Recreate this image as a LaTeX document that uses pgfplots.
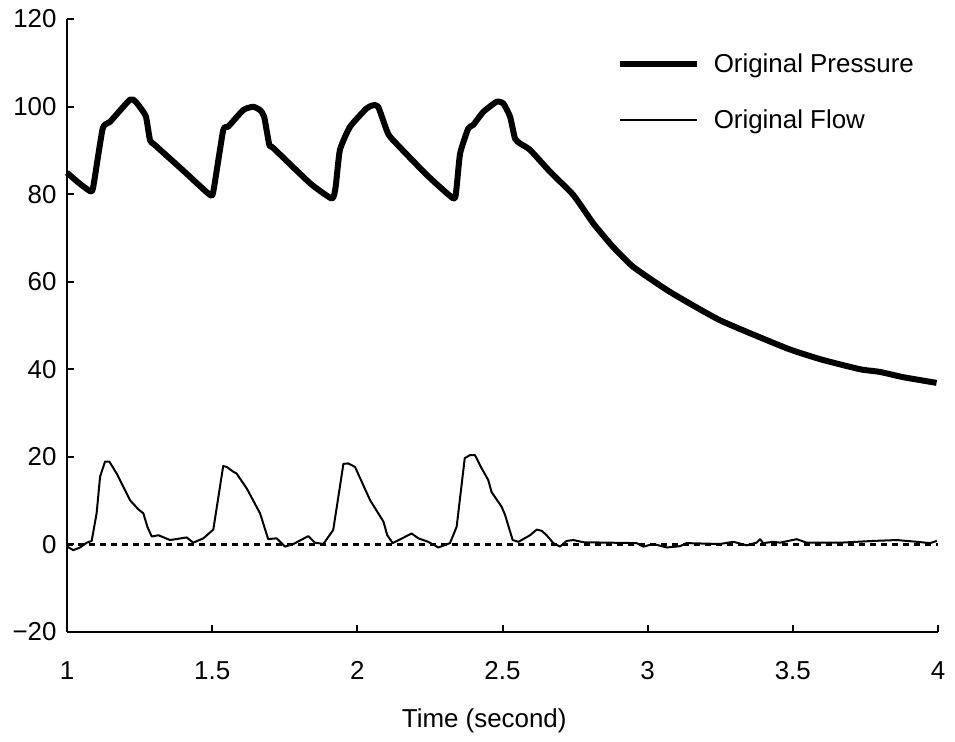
\documentclass[border=0pt]{standalone}
\usepackage{fontspec}
\setmainfont{Liberation Sans}
\usepackage{pgfplots}
\pgfplotsset{compat=1.18}
\begin{document}
\begin{tikzpicture}[font=\fontsize{26}{31}\selectfont]
\useasboundingbox (-67bp,-110bp) rectangle (888bp,632bp);
\begin{axis}[
  scale only axis,
  width=871bp, height=613bp,
  xmin=1, xmax=4, ymin=-20, ymax=120,
  axis x line*=bottom, axis y line*=left,
  axis line style={-, line width=2bp},
  tick align=inside,
  major tick length=7bp,
  tick style={line width=2bp, black},
  xtick={1,1.5,2,2.5,3,3.5,4},
  xticklabels={1,1.5,2,2.5,3,3.5,4},
  ytick={-20,0,20,40,60,80,100,120},
  yticklabels={−20,0,20,40,60,80,100,120},
  xticklabel style={yshift=-26bp},
  yticklabel style={xshift=-7bp},
  xlabel={Time (second)},
  xlabel style={at={(axis description cs:0.479,0)}, anchor=north, yshift=-73bp},
  legend style={draw=none, fill=none, at={(0.631,0.8815)}, anchor=west,
    inner sep=0pt, row sep=32bp, column sep=12bp,
    cells={anchor=west}},
  legend cell align=left,
  legend image code/.code={\draw[#1] (0bp,0bp) -- (77bp,0bp);},
  clip=false,
]
\addplot[black, line width=6bp, line join=round, smooth, tension=0.3] coordinates {
(1.000,84.9) (1.040,82.6) (1.079,80.7) (1.090,81.5) (1.123,95.0) (1.148,96.5)
(1.217,101.6) (1.235,101.2) (1.251,99.9) (1.272,97.7) (1.286,92.3) (1.303,91.2)
(1.400,85.4) (1.493,79.8) (1.505,81.0) (1.538,94.6) (1.555,95.4) (1.607,99.2)
(1.641,99.95) (1.665,99.2) (1.679,97.7) (1.697,91.2) (1.711,90.5) (1.837,82.5)
(1.912,79.0) (1.925,81.5) (1.940,90.1) (1.975,95.4) (2.032,99.6) (2.055,100.3)
(2.072,99.95) (2.101,94.6) (2.118,92.7) (2.239,84.4) (2.331,79.0) (2.341,81.0)
(2.354,89.3) (2.382,95.0) (2.399,95.8) (2.434,98.8) (2.480,101.1) (2.503,100.7)
(2.526,97.7) (2.543,92.7) (2.560,91.6) (2.595,90.1) (2.664,85.1) (2.744,79.8)
(2.813,73.3) (2.880,68.0) (2.950,63.4) (3.076,57.7) (3.249,51.2) (3.479,44.8)
(3.600,42.2) (3.732,40.0) (3.800,39.4) (3.880,38.2) (3.995,36.9)
};
\addlegendentry{Original Pressure}
\addplot[black, line width=2bp, line join=round] coordinates {
(1.000,-0.5) (1.022,-1.3) (1.045,-0.7) (1.068,0.4) (1.085,0.8) (1.102,7.1)
(1.114,15.5) (1.131,18.9) (1.146,18.9) (1.171,16.2) (1.217,10.1) (1.246,8.0)
(1.263,7.1) (1.277,4.0) (1.292,1.8) (1.315,2.1) (1.355,1.0) (1.412,1.6)
(1.435,0.4) (1.470,1.4) (1.504,3.4) (1.538,17.9) (1.550,17.7) (1.573,16.6)
(1.584,16.2) (1.619,12.8) (1.665,7.1) (1.693,1.2) (1.722,1.4) (1.751,-0.5)
(1.780,0.1) (1.831,1.9) (1.854,0.4) (1.883,0.1) (1.917,3.3) (1.952,18.4)
(1.969,18.5) (1.992,17.7) (2.044,10.1) (2.090,5.2) (2.103,2.1) (2.122,0.3)
(2.187,2.5) (2.210,1.4) (2.244,0.6) (2.279,-0.7) (2.319,0.3) (2.342,4.0)
(2.370,19.7) (2.388,20.4) (2.405,20.4) (2.428,17.4) (2.451,14.7) (2.462,12.0)
(2.497,8.6) (2.509,6.7) (2.535,1.0) (2.555,0.6) (2.595,2.1) (2.618,3.4)
(2.635,3.1) (2.652,2.1) (2.675,0.3) (2.698,-0.5) (2.721,0.8) (2.744,1.0)
(2.779,0.5) (2.962,0.3) (2.985,-0.5) (3.020,0.1) (3.066,-0.7) (3.111,-0.4)
(3.134,0.3) (3.249,0.1) (3.295,0.6) (3.341,-0.2) (3.375,0.4) (3.387,1.2)
(3.398,0.3) (3.433,0.6) (3.456,0.4) (3.513,1.2) (3.548,0.4) (3.663,0.4)
(3.778,0.8) (3.858,1.0) (3.927,0.6) (3.973,0.3) (3.996,0.8)
};
\addlegendentry{Original Flow}
\addplot[black, line width=2.5bp, dash pattern=on 6bp off 5bp, forget plot] coordinates {(1,0) (4,0)};
\end{axis}
\end{tikzpicture}
\end{document}
